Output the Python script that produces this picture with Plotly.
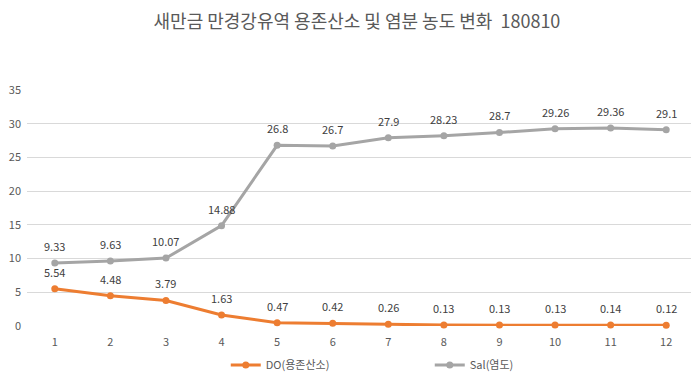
import plotly.graph_objects as go

categories = [1, 2, 3, 4, 5, 6, 7, 8, 9, 10, 11, 12]
do_values = [5.54, 4.48, 3.79, 1.63, 0.47, 0.42, 0.26, 0.13, 0.13, 0.13, 0.14, 0.12]
sal_values = [9.33, 9.63, 10.07, 14.88, 26.8, 26.7, 27.9, 28.23, 28.7, 29.26, 29.36, 29.1]
y_ticks = [0, 5, 10, 15, 20, 25, 30, 35]
title_text = "새만금 만경강유역 용존산소 및 염분 농도 변화  180810"

FONT = "Noto Sans CJK KR, Malgun Gothic, sans-serif"
DO_COLOR = "#ED7D31"
SAL_COLOR = "#A5A5A5"

fig = go.Figure()
fig.add_trace(go.Scatter(
    x=categories, y=do_values, name="DO(용존산소)", mode="lines+markers",
    line=dict(color=DO_COLOR, width=3), marker=dict(size=7, color=DO_COLOR),
    cliponaxis=False,
))
fig.add_trace(go.Scatter(
    x=categories, y=sal_values, name="Sal(염도)", mode="lines+markers",
    line=dict(color=SAL_COLOR, width=3), marker=dict(size=7, color=SAL_COLOR),
    cliponaxis=False,
))

annotations = []
for series in (do_values, sal_values):
    for c, v in zip(categories, series):
        annotations.append(dict(
            x=c, y=v, text=f"{v:g}", showarrow=False, yshift=17,
            font=dict(family=FONT, size=11, color="#404040"),
        ))

fig.update_layout(
    width=691, height=369,
    margin=dict(l=19, r=5, t=82, b=51, autoexpand=False),
    paper_bgcolor="white", plot_bgcolor="white",
    title=dict(text=title_text, x=0.505, xanchor="center", y=0.962, yanchor="middle",
               font=dict(family=FONT, size=18, color="#595959")),
    font=dict(family=FONT, size=11, color="#595959"),
    xaxis=dict(
        tickmode="array", tickvals=categories, ticktext=[str(c) for c in categories],
        range=[0.5, 12.5], showgrid=False, showline=False, zeroline=False,
        ticks="", ticklabelstandoff=8,
        tickfont=dict(size=11, color="#595959"), automargin=False,
    ),
    yaxis=dict(
        tickmode="array", tickvals=y_ticks, range=[0, 35],
        showgrid=True, gridcolor="#D9D9D9", gridwidth=1, zeroline=False,
        showline=False, ticks="", ticklabelstandoff=5, automargin=False,
        tickfont=dict(size=11, color="#595959"),
    ),
    legend=dict(orientation="h", x=0.298, xanchor="left", y=-0.165, yanchor="middle",
                font=dict(family=FONT, size=11, color="#595959"),
                entrywidth=159, itemwidth=30),
    showlegend=True,
    annotations=annotations,
)

fig.write_html("out.html")
